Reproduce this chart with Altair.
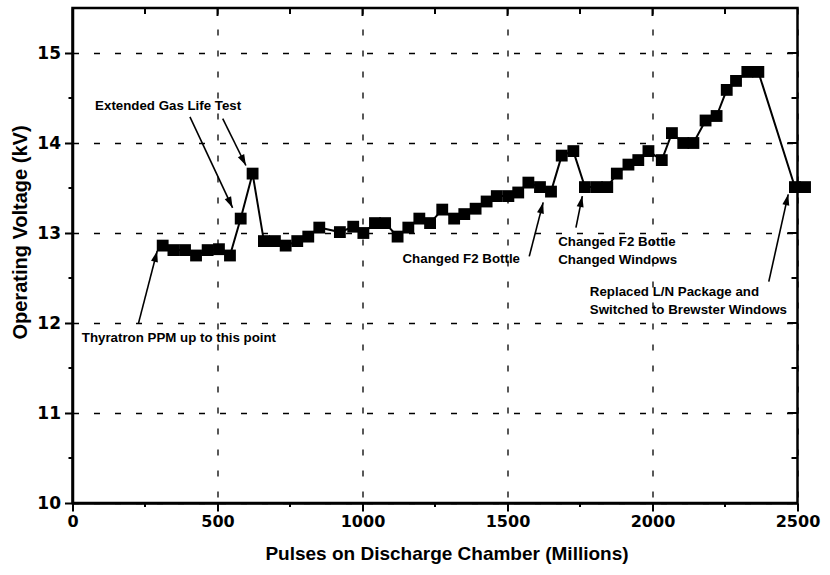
import math
import altair as alt
import pandas as pd

# ---- data ----
pulses = [311, 348, 388, 426, 466, 505, 543, 580, 621, 660, 698, 735, 775, 813, 851,
          922, 968, 1003, 1043, 1078, 1121, 1158, 1196, 1233, 1275, 1316, 1351, 1390,
          1428, 1463, 1503, 1537, 1572, 1612, 1650, 1687, 1727, 1767, 1808, 1844, 1877,
          1917, 1951, 1986, 2032, 2067, 2106, 2141, 2183, 2221, 2256, 2288, 2327, 2365,
          2491, 2526]
voltage = [12.86, 12.81, 12.81, 12.75, 12.81, 12.82, 12.75, 13.16, 13.66, 12.91, 12.91,
           12.86, 12.91, 12.96, 13.06, 13.01, 13.07, 13.00, 13.11, 13.11, 12.96, 13.06,
           13.16, 13.11, 13.26, 13.16, 13.21, 13.27, 13.35, 13.41, 13.41, 13.45, 13.56,
           13.51, 13.46, 13.86, 13.91, 13.51, 13.51, 13.51, 13.66, 13.76, 13.81, 13.91,
           13.81, 14.11, 14.00, 14.00, 14.25, 14.30, 14.59, 14.69, 14.79, 14.79, 13.51,
           13.51]

note_text = ["Extended Gas Life Test", "Thyratron PPM up to this point",
             "Changed F2 Bottle", "Changed F2 Bottle", "Changed Windows",
             "Replaced L/N Package and", "Switched to Brewster Windows"]
note_x = [78, 32, 1138, 1675, 1675, 1784, 1784]
note_y = [14.41, 11.83, 12.71, 12.90, 12.70, 12.34, 12.14]

arrow_x0 = [227, 405, 518, 1575, 1736, 2401]
arrow_y0 = [11.99, 14.29, 14.27, 12.74, 13.06, 12.46]
arrow_x1 = [292, 552, 598, 1623, 1758, 2468]
arrow_y1 = [12.80, 13.28, 13.75, 13.34, 13.41, 13.43]

x_major = [0, 500, 1000, 1500, 2000, 2500]
x_minor = [250, 750, 1250, 1750, 2250]
y_major = [10, 11, 12, 13, 14, 15]
y_minor = [10.5, 11.5, 12.5, 13.5, 14.5]

x_title = "Pulses on Discharge Chamber (Millions)"
y_title = "Operating Voltage (kV)"

# ---- layout ----
W, H = 725, 495
X_DOM = [0, 2500]
Y_DOM = [10, 15.5]
xs = alt.Scale(domain=X_DOM, nice=False, zero=False)
ys = alt.Scale(domain=Y_DOM, nice=False, zero=False)

LABEL_FONT = "DejaVu Sans"
TITLE_FONT = "Liberation Sans"
NOTE_FONT = "Liberation Sans"

common_axis = dict(
    labelFont=LABEL_FONT, labelFontWeight="bold", labelColor="black",
    labelFlush=False, labelOverlap=False,
    tickSize=8, tickWidth=2, tickColor="black",
    domainColor="black", domainWidth=2.5,
    grid=True, gridDash=[6, 15], gridColor="black", gridWidth=1.3, gridOpacity=1,
    titleFont=TITLE_FONT, titleFontWeight="bold", titleColor="black",
    titleAlign="center", titleBaseline="middle",
)

x_axis = alt.Axis(values=x_major, format="d", labelPadding=2, labelFontSize=16,
                  title=x_title, titleFontSize=19, titleX=374, titleY=50, **common_axis)
y_axis = alt.Axis(values=y_major, format="d", labelPadding=4, labelFontSize=17,
                  title=y_title, titleFontSize=20, titleX=-52, titleY=224,
                  titleAngle=270, **common_axis)


def X(field):
    return alt.X(field, scale=xs, axis=x_axis)


def Y(field):
    return alt.Y(field, scale=ys, axis=y_axis)


data = pd.DataFrame({"x": pulses, "y": voltage})
base = alt.Chart(data).encode(x=X("x:Q"), y=Y("y:Q"))
line = base.mark_line(color="black", strokeWidth=2)
points = base.mark_point(shape="square", filled=True, size=140, color="black", opacity=1)

# annotations
notes = pd.DataFrame({"t": note_text, "x": note_x, "y": note_y})
note_layer = alt.Chart(notes).mark_text(
    align="left", baseline="middle", font=NOTE_FONT, fontWeight="bold",
    fontSize=13.3, color="black"
).encode(x=X("x:Q"), y=Y("y:Q"), text="t:N")

kx = W / (X_DOM[1] - X_DOM[0])
ky = H / (Y_DOM[1] - Y_DOM[0])
angles = []
for a, b, c, d in zip(arrow_x0, arrow_y0, arrow_x1, arrow_y1):
    dx = (c - a) * kx
    dy = -(d - b) * ky
    angles.append(math.degrees(math.atan2(dx, -dy)) % 360)

arrows = pd.DataFrame({"x": arrow_x0, "y": arrow_y0, "x1": arrow_x1,
                       "y1": arrow_y1, "ang": angles})
arrow_lines = alt.Chart(arrows).mark_rule(color="black", strokeWidth=1.6).encode(
    x=X("x:Q"), y=Y("y:Q"), x2="x1:Q", y2="y1:Q",
)
arrow_heads = alt.Chart(arrows).mark_point(
    shape="M0,0L0.7,2.2L-0.7,2.2Z", filled=True, size=100, color="black", opacity=1
).encode(
    x=X("x1:Q"), y=Y("y1:Q"),
    angle=alt.Angle("ang:Q", scale=None),
)

# minor ticks / box ticks
xs_all = sorted(x_minor + x_major[1:-1])
ys_all = sorted(y_minor + y_major[1:])
xmin_df = pd.DataFrame({"x": x_minor})
xall_df = pd.DataFrame({"x": xs_all, "major": [v in x_major for v in xs_all]})
ymin_df = pd.DataFrame({"y": y_minor})
yall_df = pd.DataFrame({"y": ys_all, "major": [v in y_major for v in ys_all]})

bottom_minor = alt.Chart(xmin_df).mark_rule(color="black", strokeWidth=2).encode(
    x=X("x:Q"), y=alt.value(H), y2=alt.value(H + 4))
left_minor = alt.Chart(ymin_df).mark_rule(color="black", strokeWidth=2).encode(
    y=Y("y:Q"), x=alt.value(0), x2=alt.value(-4))
top_ticks_major = alt.Chart(xall_df).transform_filter("datum.major").mark_rule(
    color="black", strokeWidth=2).encode(x=X("x:Q"), y=alt.value(0), y2=alt.value(8))
top_ticks_minor = alt.Chart(xall_df).transform_filter("!datum.major").mark_rule(
    color="black", strokeWidth=2).encode(x=X("x:Q"), y=alt.value(0), y2=alt.value(6))
right_ticks_major = alt.Chart(yall_df).transform_filter("datum.major").mark_rule(
    color="black", strokeWidth=2).encode(y=Y("y:Q"), x=alt.value(W), x2=alt.value(W - 10))
right_ticks_minor = alt.Chart(yall_df).transform_filter("!datum.major").mark_rule(
    color="black", strokeWidth=2).encode(y=Y("y:Q"), x=alt.value(W), x2=alt.value(W - 6))

chart = alt.layer(
    line, points, arrow_lines, arrow_heads, note_layer,
    bottom_minor, left_minor, top_ticks_major, top_ticks_minor,
    right_ticks_major, right_ticks_minor,
).properties(
    width=W, height=H,
    autosize=alt.AutoSizeParams(type="none"),
    padding={"left": 72.5, "top": 8, "right": 32.5, "bottom": 72},
    background="white",
).configure_view(stroke="black", strokeWidth=2.5)

chart.save("out.html", embed_options={"renderer": "svg", "actions": False})
